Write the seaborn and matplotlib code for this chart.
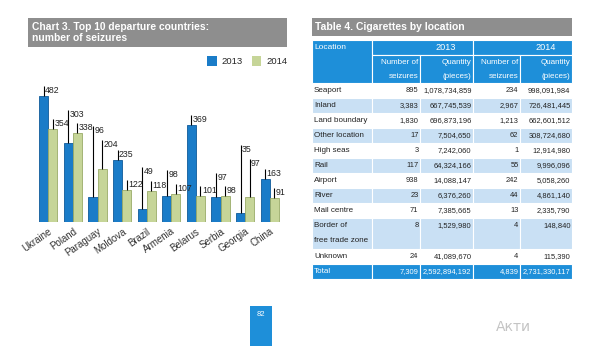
import matplotlib
matplotlib.use("Agg")
import matplotlib.pyplot as plt
from matplotlib.patches import Rectangle, Patch
import seaborn as sns
import pandas as pd

# ---------------- data ----------------
countries = ["Ukraine", "Poland", "Paraguay", "Moldova", "Brazil",
             "Armenia", "Belarus", "Serbia", "Georgia", "China"]
seizures_2013 = [482, 303, 96, 235, 49, 98, 369, 97, 35, 163]
seizures_2014 = [354, 338, 204, 122, 118, 107, 101, 98, 97, 91]
years = ["2013", "2014"]

chart_title = "Chart 3. Top 10 departure countries:\nnumber of seizures"
table_title = "Table 4. Cigarettes by location"

locations = ["Seaport", "Inland", "Land boundary", "Other location", "High seas",
             "Rail", "Airport", "River", "Mail centre",
             "Border of\nfree trade zone", "Unknown", "Total"]
num_2013 = ["895", "3,383", "1,830", "17", "3", "117", "938", "23", "71", "8", "24", "7,309"]
qty_2013 = ["1,078,734,859", "667,745,539", "696,873,196", "7,504,650", "7,242,060",
            "64,324,166", "14,088,147", "6,376,260", "7,385,665", "1,529,980",
            "41,089,670", "2,592,894,192"]
num_2014 = ["234", "2,967", "1,213", "62", "1", "55", "242", "44", "13", "4", "4", "4,839"]
qty_2014 = ["998,091,984", "726,481,445", "662,601,512", "308,724,680", "12,914,980",
            "9,996,096", "5,058,260", "4,861,140", "2,335,790", "148,840",
            "115,390", "2,731,330,117"]
page_number = "82"

# ---------------- style ----------------
sns.set_style("white")
plt.rcParams["font.family"] = ["Liberation Sans", "DejaVu Sans"]

BLUE = "#1a7cc8"
GREEN = "#c6d598"
HEAD = "#1e8fd9"
LIGHT = "#c9e0f4"
GRAY = "#8e8e8e"
TXT = "#222222"

W, H = 600, 346
fig = plt.figure(figsize=(6.0, 3.46), dpi=100)
fig.patch.set_facecolor("white")

# overlay axes in pixel coordinates
ov = fig.add_axes([0, 0, 1, 1])
ov.set_xlim(0, W)
ov.set_ylim(H, 0)
ov.axis("off")

# title boxes
ov.add_patch(Rectangle((28, 18), 259, 29, color=GRAY, lw=0))
ov.text(32, 32.5, chart_title, color="white", fontsize=7.4, fontweight="bold",
        va="center", ha="left", linespacing=1.12)
ov.add_patch(Rectangle((312, 18), 260, 18, color=GRAY, lw=0))
ov.text(315, 27, table_title, color="white", fontsize=7.5, fontweight="bold",
        va="center", ha="left")

# ---------------- table ----------------
col_edges = [312, 372, 420, 473, 520, 572]
fs = 5.45


def cell(x0, x1, y0, y1, color):
    ov.add_patch(Rectangle((x0, y0), x1 - x0, y1 - y0, facecolor=color,
                           edgecolor="white", lw=0.8))


# header
cell(312, 372, 40, 83, HEAD)
cell(372, 473, 40, 55, HEAD)
cell(473, 572, 40, 55, HEAD)
for i in range(1, 5):
    cell(col_edges[i], col_edges[i + 1], 55, 83, HEAD)
ov.text(314, 47.5, "Location", color="white", fontsize=6.0, va="center", ha="left")
ov.text(446, 47.5, years[0], color="white", fontsize=6.6, va="center", ha="center")
ov.text(546, 47.5, years[1], color="white", fontsize=6.6, va="center", ha="center")
subheads = ["Number of\nseizures", "Quantity\n(pieces)", "Number of\nseizures", "Quantity\n(pieces)"]
for i, sh in enumerate(subheads):
    top, bot = sh.split("\n")
    xr = col_edges[i + 2] - 1.5
    ov.text(xr, 62, top, color="white", fontsize=fs + 0.3, va="center", ha="right")
    ov.text(xr, 76.5, bot, color="white", fontsize=fs + 0.3, va="center", ha="right")

# body
y = 83
for r, loc in enumerate(locations):
    h = 31 if "\n" in loc else 15
    is_total = loc == "Total"
    if is_total:
        color = HEAD
    elif r % 2 == 1:
        color = LIGHT
    else:
        color = None
    if color is not None:
        for i in range(5):
            cell(col_edges[i], col_edges[i + 1], y, y + h, color)
    tc = "white" if is_total else TXT
    for k, ln in enumerate(loc.split("\n")):
        ov.text(314, y + 7.5 + 14.5 * k, ln, color=tc, fontsize=fs + 0.3,
                va="center", ha="left")
    vals = [num_2013[r], qty_2013[r], num_2014[r], qty_2014[r]]
    for i, v in enumerate(vals):
        ov.text(col_edges[i + 2] - 1.5, y + 7.5, v, color=tc, fontsize=fs,
                va="center", ha="right")
    y += h

# page number
ov.add_patch(Rectangle((250, 306), 22, 40, color=HEAD, lw=0))
ov.text(261, 314, page_number, color="white", fontsize=5.5, ha="center", va="center")
ov.text(496, 327, "Акти", color="#c4c4c4", fontsize=10, ha="left", va="center",
        family=["DejaVu Sans"])

# ---------------- bar chart ----------------
df = pd.DataFrame({
    "country": countries * 2,
    "year": [years[0]] * len(countries) + [years[1]] * len(countries),
    "value": seizures_2013 + seizures_2014,
})

ax = fig.add_axes([36 / W, 1 - 222 / H, 246 / W, 152 / H])
ax.set_facecolor("none")
sns.barplot(data=df, x="country", y="value", hue="year", palette=[BLUE, GREEN],
            saturation=1, width=0.74, ax=ax, legend=False, errorbar=None,
            linewidth=0)
for bar in ax.containers[1]:
    bar.set_edgecolor("#9aab68")
    bar.set_linewidth(0.6)
for bar in ax.containers[0]:
    bar.set_edgecolor("#0f5a99")
    bar.set_linewidth(0.6)

ax.set_ylim(0, 580)
ax.set_xlim(-0.5, len(countries) - 0.5)
for s in ax.spines.values():
    s.set_visible(False)
ax.set_yticks([])
ax.set_xlabel("")
ax.set_ylabel("")
ax.tick_params(axis="x", length=0, pad=3)
plt.setp(ax.get_xticklabels(), rotation=35, ha="right", rotation_mode="anchor",
         fontsize=7, color="#333333")

# value labels with leader lines (label heights chosen to avoid collisions)
g_short, g_sep, g_clear, g_lab = 38, 52, 42, 40
n = len(countries)
lab14 = [v + g_short for v in seizures_2014]
lab13 = [0] * n
for j in range(n - 1, -1, -1):
    if j + 1 < n:
        need = seizures_2013[j + 1] + g_clear
        if 0 < need - lab14[j] <= 80:
            lab14[j] = max(need, lab13[j + 1] + g_lab)
    lab13[j] = max(seizures_2013[j] + g_short, lab14[j] + g_sep)

for j, (b13, b14) in enumerate(zip(ax.containers[0], ax.containers[1])):
    for b, v, ylab in ((b13, seizures_2013[j], lab13[j]), (b14, seizures_2014[j], lab14[j])):
        xc = b.get_x() + b.get_width() / 2
        ax.plot([xc, xc], [v, ylab], color="black", lw=0.8, solid_capstyle="butt")
        ax.annotate(f"{v}", xy=(xc, ylab), xytext=(1.0, 0), textcoords="offset points",
                    fontsize=6.3, color=TXT, ha="left", va="top")

# legend
handles = [Patch(facecolor=BLUE, edgecolor="none"), Patch(facecolor=GREEN, edgecolor="none")]
fig.legend(handles, years, loc="center right", bbox_to_anchor=(292 / W, 1 - 61 / H),
           ncol=2, frameon=False, fontsize=6.8, handlelength=1.0, handleheight=1.2,
           handletextpad=0.5, columnspacing=1.0, borderpad=0)

fig.savefig("out.png", dpi=100, facecolor="white")
